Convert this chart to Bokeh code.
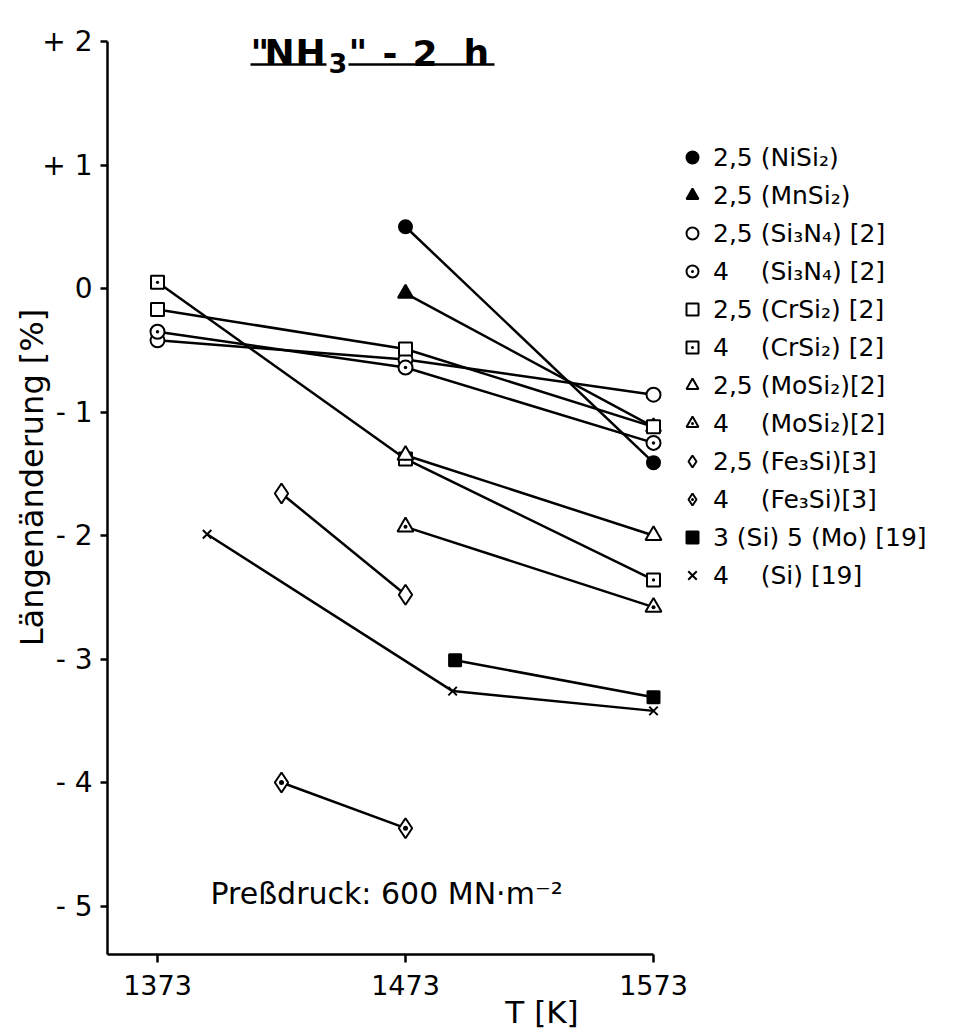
from bokeh.plotting import figure
from bokeh.models import (Range1d, FixedTicker, Legend, LegendItem, Label)
from bokeh.embed import file_html
from bokeh.resources import INLINE

# ---------------- data ----------------
T_nisi2 = [1473, 1573]
L_nisi2 = [0.50, -1.41]
T_mnsi2 = [1473, 1573]
L_mnsi2 = [-0.04, -1.12]
T_si3n4_25 = [1373, 1473, 1573]
L_si3n4_25 = [-0.42, -0.575, -0.86]
T_si3n4_4 = [1373, 1473, 1573]
L_si3n4_4 = [-0.35, -0.64, -1.25]
T_crsi2_25 = [1373, 1473, 1573]
L_crsi2_25 = [-0.17, -0.49, -1.12]
T_crsi2_4 = [1373, 1473, 1573]
L_crsi2_4 = [0.05, -1.38, -2.36]
T_mosi2_25 = [1473, 1573]
L_mosi2_25 = [-1.35, -2.00]
T_mosi2_4 = [1473, 1573]
L_mosi2_4 = [-1.93, -2.58]
T_fe3si_25 = [1423, 1473]
L_fe3si_25 = [-1.66, -2.48]
T_fe3si_4 = [1423, 1473]
L_fe3si_4 = [-4.00, -4.37]
T_si_mo = [1493, 1573]
L_si_mo = [-3.01, -3.31]
T_si = [1393, 1492, 1573]
L_si = [-1.99, -3.26, -3.42]

labels = [
    "2,5 (NiSi₂)",
    "2,5 (MnSi₂)",
    "2,5 (Si₃N₄) [2]",
    "4\u00a0\u00a0\u00a0\u00a0(Si₃N₄) [2]",
    "2,5 (CrSi₂) [2]",
    "4\u00a0\u00a0\u00a0\u00a0(CrSi₂) [2]",
    "2,5 (MoSi₂)[2]",
    "4\u00a0\u00a0\u00a0\u00a0(MoSi₂)[2]",
    "2,5 (Fe₃Si)[3]",
    "4\u00a0\u00a0\u00a0\u00a0(Fe₃Si)[3]",
    "3 (Si) 5 (Mo) [19]",
    "4\u00a0\u00a0\u00a0\u00a0(Si) [19]",
]
x_ticks = [1373, 1473, 1573]
y_ticks = [2, 1, 0, -1, -2, -3, -4, -5]
y_tick_labels = ["+ 2", "+ 1", "0", "- 1", "- 2", "- 3", "- 4", "- 5"]

series = [
    (T_nisi2, L_nisi2, "circle", "black", 13),
    (T_mnsi2, L_mnsi2, "triangle", "black", 15),
    (T_si3n4_25, L_si3n4_25, "circle", "white", 14),
    (T_si3n4_4, L_si3n4_4, "circle_dot", "white", 14),
    (T_crsi2_25, L_crsi2_25, "square", "white", 13),
    (T_crsi2_4, L_crsi2_4, "square_dot", "white", 13),
    (T_mosi2_25, L_mosi2_25, "triangle", "white", 16),
    (T_mosi2_4, L_mosi2_4, "triangle_dot", "white", 16),
    (T_fe3si_25, L_fe3si_25, "diamond", "white", 20),
    (T_fe3si_4, L_fe3si_4, "diamond_dot", "white", 20),
    (T_si_mo, L_si_mo, "square", "black", 12),
    (T_si, L_si, "x", "black", 12),
]

# ---------------- layout helpers (pixel -> data for annotations) ----------------
def X(px):
    return 1373 + (px - 157) / 2.48

def Y(py):
    return (288 - py) / 123.5

FONT = "DejaVu Sans"

p = figure(width=976, height=1036, output_backend="svg", toolbar_location=None,
           x_range=Range1d(X(107), X(976)), y_range=Range1d(Y(954), Y(0)),
           min_border_left=107, min_border_right=0, min_border_top=0,
           min_border_bottom=82)
p.grid.visible = False
p.outline_line_color = None
p.background_fill_color = "white"

# axes
xa = p.xaxis[0]
xa.ticker = FixedTicker(ticks=x_ticks)
xa.bounds = (X(107), 1573)
xa.axis_line_width = 2.5
xa.major_tick_line_width = 2.5
xa.major_tick_out = 8
xa.major_tick_in = 0
xa.minor_tick_line_color = None
xa.major_label_text_font = FONT
xa.major_label_text_font_size = "27px"
xa.major_label_text_color = "black"
xa.major_label_standoff = 12
xa.axis_label = "T [K]"
xa.axis_label_text_font = FONT
xa.axis_label_text_font_style = "normal"
xa.axis_label_text_font_size = "31px"
xa.axis_label_text_color = "black"
xa.axis_label_standoff = -4

ya = p.yaxis[0]
ya.ticker = FixedTicker(ticks=y_ticks)
ya.major_label_overrides = {t: s for t, s in zip(y_ticks, y_tick_labels)}
ya.bounds = (Y(954), 2)
ya.axis_line_width = 2.5
ya.major_tick_line_width = 2.5
ya.major_tick_out = 7
ya.major_tick_in = 0
ya.minor_tick_line_color = None
ya.major_label_text_font = FONT
ya.major_label_text_font_size = "28px"
ya.major_label_text_color = "black"
ya.major_label_standoff = 8
ya.axis_label = "Längenänderung [%]"
ya.axis_label_text_font = FONT
ya.axis_label_text_font_style = "normal"
ya.axis_label_text_font_size = "32px"
ya.axis_label_text_color = "black"
ya.axis_label_standoff = -12

# data
items = []
for (xs, ys, marker, fill, size), lab in zip(series, labels):
    p.line(xs, ys, line_color="black", line_width=2.5)
    r = p.scatter(xs, ys, marker=marker, size=size, fill_color=fill,
                  line_color="black", line_width=2)
    items.append(LegendItem(label=lab, renderers=[r]))

legend = Legend(items=items, location=(570, 364), padding=0, margin=0,
                spacing=8, glyph_width=30, glyph_height=30, label_height=30,
                label_standoff=6, label_text_font=FONT,
                label_text_font_size="25px", label_text_color="black",
                background_fill_alpha=0, border_line_alpha=0)
p.add_layout(legend)

# title, drawn piece by piece, with its broken underline
title_parts = [('"', 250, 52, "36px"), ("N", 264, 52, "36px"),
               ("H", 295, 52, "36px"), ("3", 328, 62, "27px"),
               ('"', 348, 52, "36px"), ("-", 382, 52, "36px"),
               ("2", 412, 52, "36px"), ("h", 463, 52, "36px")]
for txt, px, py, fs in title_parts:
    p.add_layout(Label(x=X(px), y=Y(py), text=txt, text_font=FONT,
                       text_font_size=fs, text_font_style="bold",
                       text_color="black", text_baseline="alphabetic"))
p.segment(x0=[X(250), X(348)], y0=[Y(64), Y(64)], x1=[X(326), X(494)],
          y1=[Y(64), Y(64)], line_color="black", line_width=2.5)

# pressing pressure annotation
p.add_layout(Label(x=X(210), y=Y(893), text="Preßdruck: 600 MN·m⁻²",
                   text_font=FONT, text_font_size="30px", text_color="black",
                   text_baseline="middle"))

open("out.html", "w").write(file_html(p, INLINE))
